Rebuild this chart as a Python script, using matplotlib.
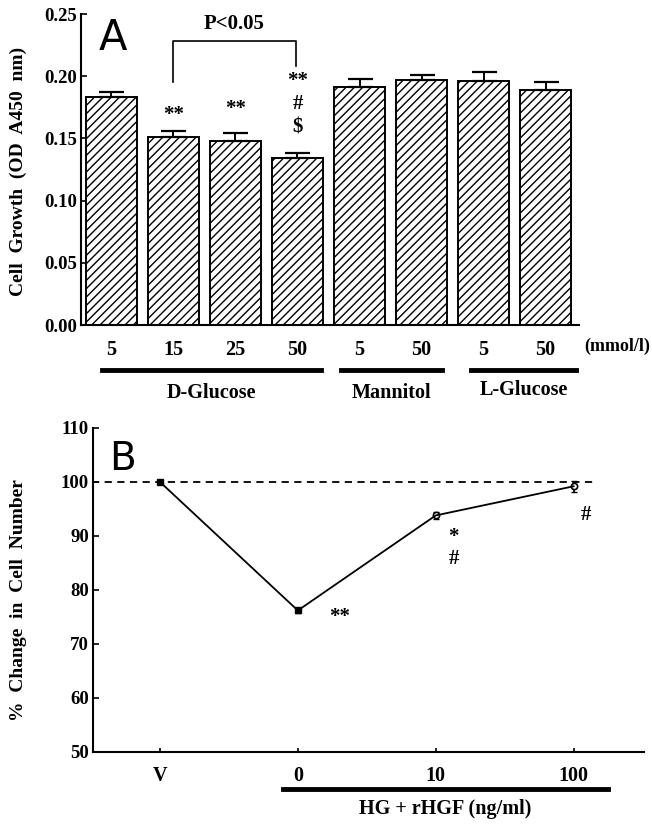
import numpy as np
import matplotlib
matplotlib.use("Agg")
import matplotlib.pyplot as plt

plt.rcParams['font.family'] = ['Liberation Serif', 'DejaVu Serif']
plt.rcParams['font.weight'] = 'bold'
plt.rcParams['hatch.linewidth'] = 1.0

# panel A data
conc_labels = ["5", "15", "25", "50", "5", "50", "5", "50"]
growth = [0.183, 0.151, 0.148, 0.134, 0.191, 0.197, 0.196, 0.189]
growth_err = [0.004, 0.005, 0.006, 0.004, 0.007, 0.004, 0.007, 0.006]
group_names = ["D-Glucose", "Mannitol", "L-Glucose"]
bar_marks = {1: ["**"], 2: ["**"], 3: ["**", "#", "$"]}

# panel B data
dose_labels = ["V", "0", "10", "100"]
pct_change = [100.0, 76.2, 93.8, 99.2]
pct_err = [0.3, 0.5, 0.7, 1.0]

fig = plt.figure(figsize=(6.52, 8.30), dpi=100)

# ---------- A ----------
axA = fig.add_axes([0.1242, 0.6084, 0.764, 0.3747])
x = np.arange(len(growth))
axA.bar(x, growth, width=0.82, color='white', edgecolor='black',
        hatch='////', linewidth=1.4)
axA.errorbar(x, growth, yerr=[np.zeros(len(growth)), growth_err], fmt='none',
             ecolor='black', elinewidth=1.4, capsize=9, capthick=1.6)
axA.set_xlim(-0.49, 7.54)
axA.set_ylim(0, 0.25)
axA.set_yticks(np.arange(0, 0.26, 0.05))
axA.set_yticklabels(["%.2f" % v for v in np.arange(0, 0.26, 0.05)])
axA.set_xticks(x)
axA.set_xticklabels(conc_labels, fontsize=14.5)
axA.tick_params(axis='x', length=0, pad=11)
axA.tick_params(axis='y', direction='in', length=4, labelsize=13.5, width=1.2, pad=3)
for s in ['top', 'right']:
    axA.spines[s].set_visible(False)
for s in ['left', 'bottom']:
    axA.spines[s].set_linewidth(1.5)

tr = axA.get_xaxis_transform()
axA.text(7.62, -0.07, "(mmol/l)", transform=tr, ha='left', va='center', fontsize=13)
spans = [(-0.15, 3.38), (3.70, 5.33), (5.80, 7.49)]
label_y = [-0.22, -0.22, -0.21]
for (a, b), name, ly in zip(spans, group_names, label_y):
    axA.plot([a, b], [-0.145, -0.145], color='black', lw=3.5, transform=tr, clip_on=False)
    axA.text((a + b) / 2, ly, name, transform=tr, ha='center', va='center', fontsize=14.5)

# significance bracket
axA.plot([1, 1, 2.97, 2.97], [0.195, 0.228, 0.228, 0.208], color='black', lw=1.2)
axA.text(1.98, 0.242, "P<0.05", ha='center', va='center', fontsize=15)
mark_y = {1: [0.1685], 2: [0.174], 3: [0.196, 0.1774, 0.159]}
for i, marks in bar_marks.items():
    for m, yy in zip(marks, mark_y[i]):
        axA.text(x[i], yy, m, ha='center', va='center', fontsize=15)

axA.text(0.02, 0.231, "A", fontfamily='DejaVu Sans', fontweight='normal',
         fontsize=30, ha='center', va='center')
fig.text(0.028, 1 - 171 / 830, "Cell  Growth  (OD  A450  nm)", rotation=90,
         ha='center', va='center', fontsize=14)

# ---------- B ----------
axB = fig.add_axes([0.1426, 0.0940, 0.845, 0.3904])
xb = np.arange(len(pct_change))
axB.plot([-0.49, 3.17], [100, 100], color='black', lw=1.3, ls=(0, (4, 3)))
axB.errorbar(xb, pct_change, yerr=pct_err, color='black', lw=1.3,
             elinewidth=1.2, capsize=2.5, fmt='-')
axB.plot(xb[:2], pct_change[:2], 's', color='black', ms=4)
axB.plot(xb[2:], pct_change[2:], 'o', mfc='white', mec='black', mew=1.2, ms=4.5)
axB.set_xlim(-0.486, 3.51)
axB.set_ylim(50, 110)
axB.set_yticks(np.arange(50, 111, 10))
axB.set_xticks(xb)
axB.set_xticklabels(dose_labels, fontsize=14.5)
axB.tick_params(axis='x', direction='in', length=3, pad=10, width=1.2)
axB.tick_params(axis='y', direction='in', length=4, labelsize=13.5, width=1.2, pad=3)
for s in ['top', 'right']:
    axB.spines[s].set_visible(False)
for s in ['left', 'bottom']:
    axB.spines[s].set_linewidth(1.5)

axB.text(1.30, 75.0, "**", ha='center', va='center', fontsize=15)
axB.text(2.13, 89.8, "*", ha='center', va='center', fontsize=15)
axB.text(2.13, 85.7, "#", ha='center', va='center', fontsize=15)
axB.text(3.09, 93.9, "#", ha='center', va='center', fontsize=15)

trB = axB.get_xaxis_transform()
axB.plot([0.89, 3.25], [-0.114, -0.114], color='black', lw=3.5, transform=trB, clip_on=False)
axB.text(2.07, -0.176, "HG + rHGF (ng/ml)", transform=trB, ha='center', va='center', fontsize=14.5)
axB.text(-0.275, 104.3, "B", fontfamily='DejaVu Sans', fontweight='normal',
         fontsize=28, ha='center', va='center')
fig.text(0.028, 1 - 600 / 830, "%  Change  in  Cell  Number", rotation=90,
         ha='center', va='center', fontsize=14)

fig.savefig("out.png", dpi=100)
